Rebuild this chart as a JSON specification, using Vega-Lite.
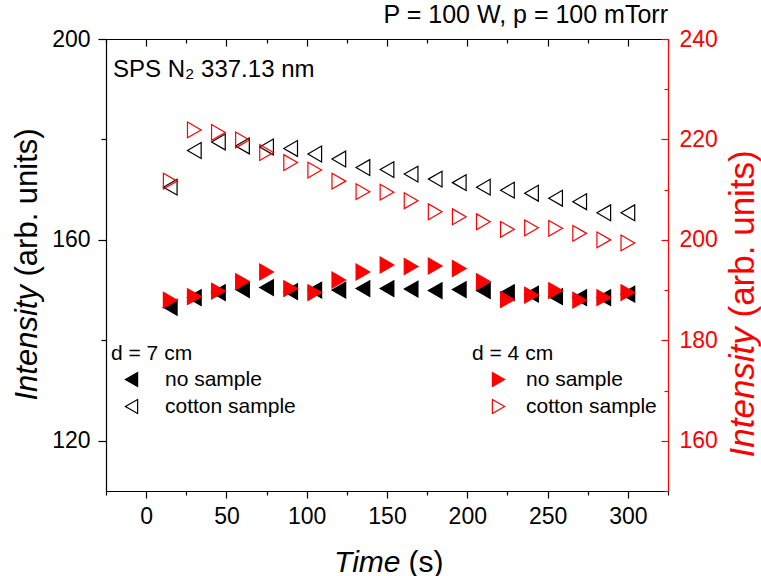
{
  "$schema": "https://vega.github.io/schema/vega-lite/v6.json",
  "width": 562,
  "height": 452,
  "autosize": {"type": "none"},
  "padding": {"left": 106, "top": 39, "right": 93, "bottom": 85},
  "background": "white",
  "title": {"text": "P = 100 W, p = 100 mTorr", "anchor": "end", "frame": "group", "orient": "top", "fontSize": 25, "fontWeight": "normal", "font": "Liberation Sans", "color": "black", "baseline": "alphabetic", "offset": 8, "dy": 28},
  "config": {
    "view": {"stroke": null},
    "font": "Liberation Sans",
    "axis": {"grid": false, "domainColor": "black", "tickColor": "black", "labelColor": "black", "titleColor": "black", "labelFont": "Liberation Sans", "titleFont": "Liberation Sans", "labelFontSize": 23, "titleFontSize": 30, "titleFontWeight": "normal", "domainWidth": 1.2, "tickWidth": 1.2, "labelFlush": false, "labelOverlap": false}
  },
  "data": {"values": [
    {"t": 15, "I": 146.6, "d": "7 cm", "sample": "no sample"},
    {"t": 30, "I": 148.5, "d": "7 cm", "sample": "no sample"},
    {"t": 45, "I": 149.5, "d": "7 cm", "sample": "no sample"},
    {"t": 60, "I": 150.1, "d": "7 cm", "sample": "no sample"},
    {"t": 75, "I": 150.5, "d": "7 cm", "sample": "no sample"},
    {"t": 90, "I": 149.7, "d": "7 cm", "sample": "no sample"},
    {"t": 105, "I": 150.0, "d": "7 cm", "sample": "no sample"},
    {"t": 120, "I": 150.0, "d": "7 cm", "sample": "no sample"},
    {"t": 135, "I": 150.3, "d": "7 cm", "sample": "no sample"},
    {"t": 150, "I": 150.3, "d": "7 cm", "sample": "no sample"},
    {"t": 165, "I": 150.2, "d": "7 cm", "sample": "no sample"},
    {"t": 180, "I": 149.9, "d": "7 cm", "sample": "no sample"},
    {"t": 195, "I": 150.1, "d": "7 cm", "sample": "no sample"},
    {"t": 210, "I": 149.9, "d": "7 cm", "sample": "no sample"},
    {"t": 225, "I": 149.5, "d": "7 cm", "sample": "no sample"},
    {"t": 240, "I": 149.2, "d": "7 cm", "sample": "no sample"},
    {"t": 255, "I": 148.7, "d": "7 cm", "sample": "no sample"},
    {"t": 270, "I": 148.5, "d": "7 cm", "sample": "no sample"},
    {"t": 285, "I": 148.5, "d": "7 cm", "sample": "no sample"},
    {"t": 300, "I": 149.2, "d": "7 cm", "sample": "no sample"},
    {"t": 15, "I": 170.5, "d": "7 cm", "sample": "cotton sample"},
    {"t": 30, "I": 177.8, "d": "7 cm", "sample": "cotton sample"},
    {"t": 45, "I": 179.5, "d": "7 cm", "sample": "cotton sample"},
    {"t": 60, "I": 178.7, "d": "7 cm", "sample": "cotton sample"},
    {"t": 75, "I": 178.5, "d": "7 cm", "sample": "cotton sample"},
    {"t": 90, "I": 178.2, "d": "7 cm", "sample": "cotton sample"},
    {"t": 105, "I": 177.1, "d": "7 cm", "sample": "cotton sample"},
    {"t": 120, "I": 176.1, "d": "7 cm", "sample": "cotton sample"},
    {"t": 135, "I": 174.4, "d": "7 cm", "sample": "cotton sample"},
    {"t": 150, "I": 174.0, "d": "7 cm", "sample": "cotton sample"},
    {"t": 165, "I": 173.1, "d": "7 cm", "sample": "cotton sample"},
    {"t": 180, "I": 172.1, "d": "7 cm", "sample": "cotton sample"},
    {"t": 195, "I": 171.4, "d": "7 cm", "sample": "cotton sample"},
    {"t": 210, "I": 170.5, "d": "7 cm", "sample": "cotton sample"},
    {"t": 225, "I": 169.9, "d": "7 cm", "sample": "cotton sample"},
    {"t": 240, "I": 169.3, "d": "7 cm", "sample": "cotton sample"},
    {"t": 255, "I": 168.3, "d": "7 cm", "sample": "cotton sample"},
    {"t": 270, "I": 167.6, "d": "7 cm", "sample": "cotton sample"},
    {"t": 285, "I": 165.4, "d": "7 cm", "sample": "cotton sample"},
    {"t": 300, "I": 165.4, "d": "7 cm", "sample": "cotton sample"},
    {"t": 15, "I": 188.0, "d": "4 cm", "sample": "no sample"},
    {"t": 30, "I": 188.7, "d": "4 cm", "sample": "no sample"},
    {"t": 45, "I": 189.8, "d": "4 cm", "sample": "no sample"},
    {"t": 60, "I": 191.7, "d": "4 cm", "sample": "no sample"},
    {"t": 75, "I": 193.6, "d": "4 cm", "sample": "no sample"},
    {"t": 90, "I": 190.3, "d": "4 cm", "sample": "no sample"},
    {"t": 105, "I": 189.5, "d": "4 cm", "sample": "no sample"},
    {"t": 120, "I": 192.0, "d": "4 cm", "sample": "no sample"},
    {"t": 135, "I": 193.6, "d": "4 cm", "sample": "no sample"},
    {"t": 150, "I": 195.0, "d": "4 cm", "sample": "no sample"},
    {"t": 165, "I": 194.7, "d": "4 cm", "sample": "no sample"},
    {"t": 180, "I": 194.8, "d": "4 cm", "sample": "no sample"},
    {"t": 195, "I": 194.3, "d": "4 cm", "sample": "no sample"},
    {"t": 210, "I": 191.7, "d": "4 cm", "sample": "no sample"},
    {"t": 225, "I": 188.1, "d": "4 cm", "sample": "no sample"},
    {"t": 240, "I": 189.0, "d": "4 cm", "sample": "no sample"},
    {"t": 255, "I": 189.9, "d": "4 cm", "sample": "no sample"},
    {"t": 270, "I": 188.0, "d": "4 cm", "sample": "no sample"},
    {"t": 285, "I": 188.5, "d": "4 cm", "sample": "no sample"},
    {"t": 300, "I": 189.5, "d": "4 cm", "sample": "no sample"},
    {"t": 15, "I": 211.7, "d": "4 cm", "sample": "cotton sample"},
    {"t": 30, "I": 221.9, "d": "4 cm", "sample": "cotton sample"},
    {"t": 45, "I": 221.4, "d": "4 cm", "sample": "cotton sample"},
    {"t": 60, "I": 219.9, "d": "4 cm", "sample": "cotton sample"},
    {"t": 75, "I": 217.4, "d": "4 cm", "sample": "cotton sample"},
    {"t": 90, "I": 215.4, "d": "4 cm", "sample": "cotton sample"},
    {"t": 105, "I": 213.9, "d": "4 cm", "sample": "cotton sample"},
    {"t": 120, "I": 211.7, "d": "4 cm", "sample": "cotton sample"},
    {"t": 135, "I": 209.6, "d": "4 cm", "sample": "cotton sample"},
    {"t": 150, "I": 209.5, "d": "4 cm", "sample": "cotton sample"},
    {"t": 165, "I": 207.8, "d": "4 cm", "sample": "cotton sample"},
    {"t": 180, "I": 205.6, "d": "4 cm", "sample": "cotton sample"},
    {"t": 195, "I": 204.6, "d": "4 cm", "sample": "cotton sample"},
    {"t": 210, "I": 203.6, "d": "4 cm", "sample": "cotton sample"},
    {"t": 225, "I": 202.1, "d": "4 cm", "sample": "cotton sample"},
    {"t": 240, "I": 202.4, "d": "4 cm", "sample": "cotton sample"},
    {"t": 255, "I": 202.3, "d": "4 cm", "sample": "cotton sample"},
    {"t": 270, "I": 201.3, "d": "4 cm", "sample": "cotton sample"},
    {"t": 285, "I": 200.0, "d": "4 cm", "sample": "cotton sample"},
    {"t": 300, "I": 199.4, "d": "4 cm", "sample": "cotton sample"}
  ]},
  "layer": [
    {
      "layer": [
        {
          "transform": [{"filter": "datum.d === '7 cm' && datum.sample === 'no sample'"}],
          "mark": {"type": "point", "shape": "triangle-left", "filled": true, "stroke": "black", "strokeWidth": 1.2, "opacity": 1, "size": 250},
          "encoding": {
            "x": {"field": "t", "type": "quantitative", "scale": {"domain": [-25, 325], "nice": false, "zero": false},
              "axis": {"orient": "bottom", "values": [0, 50, 100, 150, 200, 250, 300], "tickSize": 7, "labelPadding": 7, "title": "Time", "titleFontStyle": "italic", "titleAlign": "right", "titleX": 294, "titleY": 80, "titleBaseline": "alphabetic"}},
            "y": {"field": "I", "type": "quantitative", "scale": {"domain": [110, 200], "nice": false, "zero": false},
              "axis": {"orient": "left", "values": [120, 160, 200], "tickSize": 8, "labelPadding": 8, "title": "Intensity", "titleFontStyle": "italic", "titleFontSize": 31, "titleAlign": "left", "titleX": -70, "titleY": 361, "titleBaseline": "alphabetic"}},
            "fill": {"field": "sample", "type": "nominal", "scale": {"domain": ["no sample", "cotton sample"], "range": ["black", "transparent"]},
              "legend": {"title": "d = 7 cm", "orient": "none", "legendX": 5, "legendY": 304, "symbolType": "triangle-left", "symbolSize": 200, "symbolStrokeColor": "black", "symbolStrokeWidth": 1.2, "symbolOffset": 10, "labelOffset": 23, "rowPadding": 5, "titlePadding": 5, "padding": 0, "titleFontSize": 21, "labelFontSize": 21, "titleFontWeight": "normal", "titleColor": "black", "labelColor": "black", "titleFont": "Liberation Sans", "labelFont": "Liberation Sans"}}
          }
        },
        {
          "transform": [{"filter": "datum.d === '7 cm' && datum.sample === 'cotton sample'"}],
          "mark": {"type": "point", "shape": "triangle-left", "filled": true, "stroke": "black", "strokeWidth": 1.2, "opacity": 1, "size": 250},
          "encoding": {
            "x": {"field": "t", "type": "quantitative", "scale": {"domain": [-25, 325], "nice": false, "zero": false},
              "axis": {"orient": "bottom", "values": [-25, 25, 75, 125, 175, 225, 275, 325], "tickSize": 4, "labels": false, "domain": false, "title": "(s)", "titleAlign": "left", "titleX": 302, "titleY": 80, "titleBaseline": "alphabetic"}},
            "y": {"field": "I", "type": "quantitative", "scale": {"domain": [110, 200], "nice": false, "zero": false},
              "axis": {"orient": "left", "values": [140, 180], "tickSize": 5, "labels": false, "domain": false, "title": "(arb. units)", "titleFontSize": 31, "titleAlign": "left", "titleX": -70, "titleY": 237, "titleBaseline": "alphabetic"}},
            "fill": {"field": "sample", "type": "nominal", "scale": {"domain": ["no sample", "cotton sample"], "range": ["black", "transparent"]},
              "legend": {"title": "d = 7 cm", "orient": "none", "legendX": 5, "legendY": 304, "symbolType": "triangle-left", "symbolSize": 200, "symbolStrokeColor": "black", "symbolStrokeWidth": 1.2, "symbolOffset": 10, "labelOffset": 23, "rowPadding": 5, "titlePadding": 5, "padding": 0, "titleFontSize": 21, "labelFontSize": 21, "titleFontWeight": "normal", "titleColor": "black", "labelColor": "black", "titleFont": "Liberation Sans", "labelFont": "Liberation Sans"}}
          }
        },
        {
          "data": {"values": [{"label": "SPS N₂ 337.13 nm"}]},
          "mark": {"type": "text", "align": "left", "baseline": "middle", "fontSize": 24, "font": "Liberation Sans", "color": "black"},
          "encoding": {
            "text": {"field": "label"},
            "x": {"datum": -20.6, "type": "quantitative", "scale": {"domain": [-25, 325], "nice": false, "zero": false}, "axis": null},
            "y": {"datum": 193.8, "type": "quantitative", "scale": {"domain": [110, 200], "nice": false, "zero": false}, "axis": null}
          }
        }
      ],
      "resolve": {"axis": {"x": "independent", "y": "independent"}}
    },
    {
      "layer": [
        {
          "transform": [{"filter": "datum.d === '4 cm' && datum.sample === 'no sample'"}],
          "mark": {"type": "point", "shape": "triangle-right", "filled": true, "stroke": "#ff0000", "strokeWidth": 1.2, "opacity": 1, "size": 250},
          "encoding": {
            "x": {"field": "t", "type": "quantitative", "scale": {"domain": [-25, 325], "nice": false, "zero": false},
              "axis": {"orient": "top", "values": [0, 50, 100, 150, 200, 250, 300], "tickSize": -7, "labels": false, "title": null}},
            "y": {"field": "I", "type": "quantitative", "scale": {"domain": [150, 240], "nice": false, "zero": false},
              "axis": {"orient": "right", "values": [160, 180, 200, 220, 240], "tickSize": -7, "labelPadding": 18, "domainColor": "#ff0000", "tickColor": "#ff0000", "labelColor": "#ff0000", "titleColor": "#ff0000", "title": "Intensity", "titleFontStyle": "italic", "titleFontSize": 35, "titleAngle": 270, "titleAlign": "left", "titleX": 85, "titleY": 418, "titleBaseline": "alphabetic"}},
            "fill": {"field": "sample", "type": "nominal", "scale": {"domain": ["no sample", "cotton sample"], "range": ["#ff0000", "transparent"]},
              "legend": {"title": "d = 4 cm", "orient": "none", "legendX": 366, "legendY": 304, "symbolType": "triangle-right", "symbolSize": 200, "symbolStrokeColor": "#ff0000", "symbolStrokeWidth": 1.2, "symbolOffset": 16, "labelOffset": 17, "rowPadding": 5, "titlePadding": 5, "padding": 0, "titleFontSize": 21, "labelFontSize": 21, "titleFontWeight": "normal", "titleColor": "black", "labelColor": "black", "titleFont": "Liberation Sans", "labelFont": "Liberation Sans"}}
          }
        },
        {
          "transform": [{"filter": "datum.d === '4 cm' && datum.sample === 'cotton sample'"}],
          "mark": {"type": "point", "shape": "triangle-right", "filled": true, "stroke": "#ff0000", "strokeWidth": 1.2, "opacity": 1, "size": 250},
          "encoding": {
            "x": {"field": "t", "type": "quantitative", "scale": {"domain": [-25, 325], "nice": false, "zero": false},
              "axis": {"orient": "top", "values": [-25, 25, 75, 125, 175, 225, 275, 325], "tickSize": -4, "labels": false, "domain": false, "title": null}},
            "y": {"field": "I", "type": "quantitative", "scale": {"domain": [150, 240], "nice": false, "zero": false},
              "axis": {"orient": "right", "values": [150, 170, 190, 210, 230], "tickSize": -4, "labels": false, "domain": false, "tickColor": "#ff0000", "titleColor": "#ff0000", "title": "(arb. units)", "titleFontSize": 35, "titleAngle": 270, "titleAlign": "left", "titleX": 85, "titleY": 278, "titleBaseline": "alphabetic"}},
            "fill": {"field": "sample", "type": "nominal", "scale": {"domain": ["no sample", "cotton sample"], "range": ["#ff0000", "transparent"]},
              "legend": {"title": "d = 4 cm", "orient": "none", "legendX": 366, "legendY": 304, "symbolType": "triangle-right", "symbolSize": 200, "symbolStrokeColor": "#ff0000", "symbolStrokeWidth": 1.2, "symbolOffset": 16, "labelOffset": 17, "rowPadding": 5, "titlePadding": 5, "padding": 0, "titleFontSize": 21, "labelFontSize": 21, "titleFontWeight": "normal", "titleColor": "black", "labelColor": "black", "titleFont": "Liberation Sans", "labelFont": "Liberation Sans"}}
          }
        }
      ],
      "resolve": {"axis": {"x": "independent", "y": "independent"}}
    }
  ],
  "resolve": {"scale": {"y": "independent", "fill": "independent"}, "axis": {"x": "independent", "y": "independent"}, "legend": {"fill": "independent"}}
}
